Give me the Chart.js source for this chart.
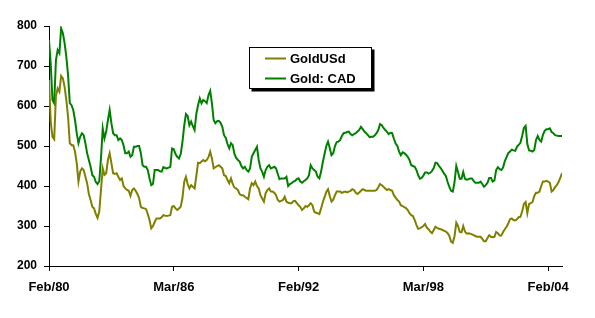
<!DOCTYPE html>
<html>
<head>
<meta charset="utf-8">
<script src="https://cdn.jsdelivr.net/npm/chart.js@4/dist/chart.umd.min.js"></script>
<style>
  html, body { margin: 0; padding: 0; background: #fff; }
  #wrap { width: 595px; height: 318px; position: relative; }
</style>
</head>
<body>
<div id="wrap"><canvas id="c" width="595" height="318"></canvas></div>
<script>
// Monthly series, index 0 = Feb 1980
const seriesNames = ['GoldUSd', 'Gold: CAD'];
const xTickPositions = [0, 72, 144, 216, 288];
const xTickLabels = ['Feb/80', 'Mar/86', 'Feb/92', 'Mar/98', 'Feb/04'];
const yTicks = [200, 300, 400, 500, 600, 700, 800];

const goldUSD = [
  665,560,523,517,625,644,636,675,669,648,
  615,573,507,502,502,486,457,411,436,444,
  440,423,407,380,365,348,344,330,320,336,
  390,444,428,432,465,482,457,432,430,432,
  423,415,419,400,394,390,388,375,390,394,
  388,380,370,348,345,344,342,330,315,294,
  300,310,319,319,319,322,327,326,325,326,
  327,348,350,344,340,344,348,370,410,423,
  405,394,402,398,394,425,458,457,461,465,
  462,465,472,486,469,444,447,450,452,448,
  444,427,425,415,407,419,405,396,394,390,
  380,377,377,373,370,367,394,407,402,411,
  400,394,377,369,361,382,390,394,386,386,
  383,377,365,361,363,365,373,361,358,357,
  357,362,363,357,352,348,340,344,350,348,
  352,357,352,336,333,332,330,344,360,372,
  385,392,375,361,366,377,386,386,386,383,
  385,386,384,386,388,392,390,383,380,384,
  388,392,390,388,388,388,388,388,388,390,
  397,405,402,398,394,390,392,390,388,377,
  371,365,361,352,350,347,345,340,332,327,
  325,315,303,293,294,297,300,305,296,292,
  286,282,290,298,295,293,292,290,288,286,
  282,275,261,258,275,308,300,285,284,300,
  286,281,282,281,279,277,275,273,273,273,
  268,262,262,270,277,273,272,273,285,282,
  276,276,285,292,298,306,317,319,315,314,
  317,322,323,336,355,360,332,355,357,360,
  375,383,383,386,400,411,411,413,411,408,
  386,390,397,402,410,420,432
];

const goldCAD = [
  765,705,615,607,715,740,732,794,782,757,
  723,677,607,602,590,565,532,507,523,532,
  527,507,482,465,448,427,423,410,405,412,
  470,544,519,536,565,590,557,532,527,527,
  515,519,515,502,482,482,486,473,477,498,
  498,500,500,482,452,448,448,440,419,402,
  405,440,440,440,437,436,447,445,444,446,
  448,494,492,480,473,469,480,510,550,580,
  575,552,561,550,540,580,602,619,607,615,
  612,607,627,638,607,565,557,562,563,558,
  548,527,520,505,494,507,502,480,470,465,
  461,450,444,448,440,436,444,473,482,490,
  498,465,444,436,423,440,448,452,444,446,
  448,444,430,417,419,419,419,423,400,405,
  407,411,413,417,419,411,408,412,415,419,
  427,452,444,440,436,423,419,436,460,480,
  500,511,495,477,482,500,510,511,515,525,
  532,533,535,536,530,527,530,532,536,540,
  548,542,536,532,527,522,523,523,527,532,
  540,555,552,545,540,536,530,533,532,518,
  506,500,486,477,484,482,478,473,465,452,
  450,448,440,427,418,420,426,434,434,431,
  433,438,445,458,457,450,445,438,431,425,
  410,398,388,386,410,450,435,418,418,435,
  418,416,417,419,419,413,408,408,408,411,
  405,398,402,408,420,420,411,414,440,447,
  442,440,446,462,472,482,486,491,489,488,
  498,503,508,525,545,550,505,489,488,486,
  490,515,525,515,511,528,538,542,542,544,
  535,532,527,526,525,525,525
];

const colors = ['#808000', '#008000'];
const FONT = '"Liberation Sans", Arial, sans-serif';

const toPoints = arr => arr.map((v, i) => ({ x: i, y: v }));

const legendBox = {
  id: 'legendBox',
  afterDraw(chart) {
    const ctx = chart.ctx;
    const bx = 249.5, by = 47.5, bw = 122, bh = 41;
    ctx.save();
    ctx.fillStyle = '#000';
    ctx.fillRect(bx + 2, by + 2, bw + 1, bh + 1);
    ctx.fillStyle = '#fff';
    ctx.fillRect(bx, by, bw, bh);
    ctx.strokeStyle = '#000';
    ctx.lineWidth = 1;
    ctx.strokeRect(bx, by, bw, bh);
    const rows = [58.5, 78.5];
    ctx.font = 'bold 13px ' + FONT;
    ctx.textBaseline = 'middle';
    ctx.textAlign = 'left';
    seriesNames.forEach((name, k) => {
      ctx.strokeStyle = colors[k];
      ctx.lineWidth = 2;
      ctx.beginPath();
      ctx.moveTo(265, rows[k]);
      ctx.lineTo(286, rows[k]);
      ctx.stroke();
      ctx.fillStyle = '#000';
      ctx.fillText(name, 290, rows[k] + 0.5);
    });
    ctx.restore();
  }
};

new Chart(document.getElementById('c'), {
  type: 'line',
  data: {
    datasets: [
      { label: seriesNames[0], data: toPoints(goldUSD), borderColor: colors[0], borderWidth: 2, pointRadius: 0, tension: 0, fill: false },
      { label: seriesNames[1], data: toPoints(goldCAD), borderColor: colors[1], borderWidth: 2, pointRadius: 0, tension: 0, fill: false }
    ]
  },
  options: {
    responsive: false,
    animation: false,
    events: [],
    layout: { padding: { top: 26, right: 33, left: 0, bottom: 0 } },
    plugins: { legend: { display: false }, tooltip: { enabled: false } },
    scales: {
      x: {
        type: 'linear',
        min: 0,
        max: goldUSD.length - 1,
        afterBuildTicks: s => { s.ticks = xTickPositions.map(v => ({ value: v })); },
        afterFit: s => { s.height = 52; },
        ticks: {
          autoSkip: false,
          maxRotation: 0,
          padding: 9,
          color: '#000',
          font: { family: FONT, size: 13, weight: 'bold' },
          callback: v => { const k = xTickPositions.indexOf(v); return k >= 0 ? xTickLabels[k] : null; }
        },
        grid: { drawOnChartArea: false, drawTicks: true, tickLength: 5, color: '#000' },
        border: { display: true, color: '#000', width: 1 }
      },
      y: {
        min: yTicks[0],
        max: yTicks[yTicks.length - 1],
        afterBuildTicks: s => { s.ticks = yTicks.map(v => ({ value: v })); },
        afterFit: s => { s.width = 49; },
        ticks: {
          padding: 7,
          color: '#000',
          font: { family: FONT, size: 12, weight: 'bold' }
        },
        grid: { drawOnChartArea: false, drawTicks: true, tickLength: 5, color: '#000' },
        border: { display: true, color: '#000', width: 1 }
      }
    }
  },
  plugins: [legendBox]
});
</script>
</body>
</html>
